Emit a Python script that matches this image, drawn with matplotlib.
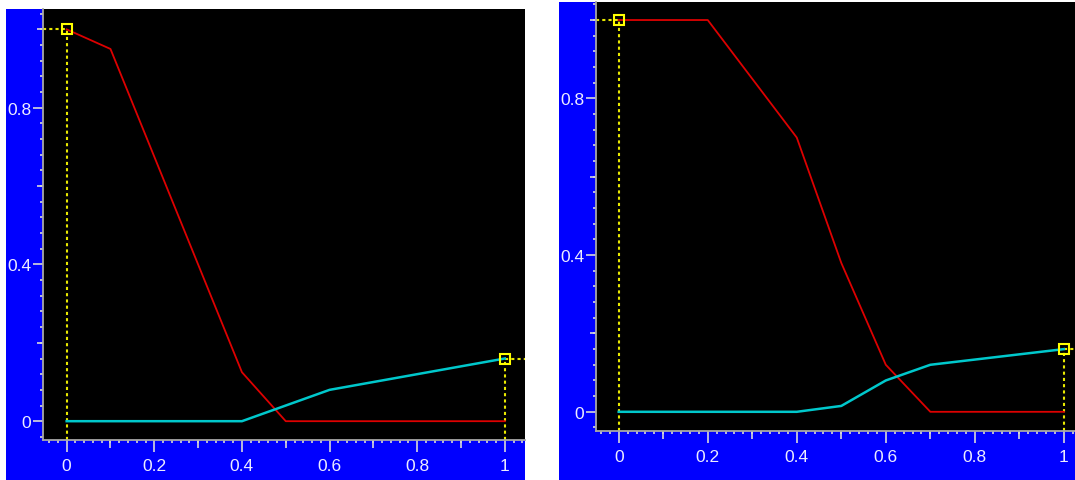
import matplotlib
matplotlib.use('Agg')
import matplotlib.pyplot as plt
from matplotlib.ticker import MultipleLocator, NullFormatter

# data (breakpoints of the piecewise curves)
left_red_x = [0.0, 0.1, 0.4, 0.5, 1.0]
left_red_y = [1.0, 0.95, 0.125, 0.0, 0.0]
left_cyan_x = [0.0, 0.4, 0.6, 1.0]
left_cyan_y = [0.0, 0.0, 0.08, 0.16]

right_red_x = [0.0, 0.2, 0.4, 0.5, 0.6, 0.7, 1.0]
right_red_y = [1.0, 1.0, 0.70, 0.38, 0.12, 0.0, 0.0]
right_cyan_x = [0.0, 0.4, 0.5, 0.6, 0.7, 1.0]
right_cyan_y = [0.0, 0.0, 0.015, 0.08, 0.12, 0.16]

x_ticks = [0, 0.2, 0.4, 0.6, 0.8, 1.0]
x_labels = ['0', '0.2', '0.4', '0.6', '0.8', '1']
y_ticks = [0, 0.4, 0.8]
y_labels = ['0', '0.4', '0.8']

W, H = 1075, 481
BLUE = '#0000ff'
TXT = '#ececff'
TICK = '#d8d8d8'
plt.rcParams['font.family'] = ['Liberation Sans', 'DejaVu Sans']

fig = plt.figure(figsize=(W / 100, H / 100), dpi=100)
fig.patch.set_facecolor('white')


def rect(x0, y0, x1, y1):
    # pixel box (top-left origin) -> figure fraction
    return [x0 / W, 1 - y1 / H, (x1 - x0) / W, (y1 - y0) / H]


def panel(bg_box, ax_box, xlim, ylim, rx, ry, cx, cy):
    bg = fig.add_axes(rect(*bg_box))
    bg.set_facecolor(BLUE)
    bg.set_xticks([]); bg.set_yticks([])
    for s in bg.spines.values():
        s.set_visible(False)

    ax = fig.add_axes(rect(*ax_box))
    ax.set_facecolor('black')
    ax.set_xlim(xlim)
    ax.set_ylim(ylim)
    for s in ['top', 'right']:
        ax.spines[s].set_visible(False)
    for s in ['left', 'bottom']:
        ax.spines[s].set_color('#a8a8a8')
        ax.spines[s].set_linewidth(1.3)

    ax.set_xticks(x_ticks)
    ax.set_xticklabels(x_labels)
    ax.set_yticks(y_ticks)
    ax.set_yticklabels(y_labels)
    ax.xaxis.set_minor_locator(MultipleLocator(0.02))
    ax.yaxis.set_minor_locator(MultipleLocator(0.04))
    ax.tick_params(axis='x', which='major', length=8.6, width=1.2, color=TICK,
                   labelcolor=TXT, labelsize=12.5, pad=4.5)
    ax.tick_params(axis='y', which='major', length=7, width=1.2, color=TICK,
                   labelcolor=TXT, labelsize=12.5, pad=1.5)
    ax.tick_params(which='minor', length=2.2, width=1.2, color=TICK)

    # medium ticks (0.1 on x, 0.2 on y)
    sx = ax.secondary_xaxis('bottom')
    sx.set_xticks([0.1, 0.3, 0.5, 0.7, 0.9])
    sx.xaxis.set_major_formatter(NullFormatter())
    sx.tick_params(length=5.8, width=1.2, color=TICK)
    sx.spines['bottom'].set_visible(False)
    sy = ax.secondary_yaxis('left')
    sy.set_yticks([0.2, 0.6, 1.0])
    sy.yaxis.set_major_formatter(NullFormatter())
    sy.tick_params(length=4, width=1.2, color=TICK)
    sy.spines['left'].set_visible(False)

    ax.plot(rx, ry, color='#dd0000', lw=1.3, zorder=3)
    ax.plot(cx, cy, color='#00c8cc', lw=1.8, zorder=3)

    # yellow cursors on first red point and last cyan point
    yl = dict(color='#e8e800', lw=1.5, ls=(0, (1.5, 1.5)), zorder=2)
    ax.plot([xlim[0], rx[0]], [ry[0], ry[0]], **yl)
    ax.plot([rx[0], rx[0]], [ylim[0], ry[0]], **yl)
    ax.plot([cx[-1], xlim[1]], [cy[-1], cy[-1]], **yl)
    ax.plot([cx[-1], cx[-1]], [ylim[0], cy[-1]], **yl)
    ax.plot([rx[0], cx[-1]], [ry[0], cy[-1]], ls='none', marker='s', ms=7,
            mfc='none', mec='#ffff00', mew=1.5, zorder=4)
    return ax


panel((6, 10, 525, 481), (43, 10, 525, 441), (-0.054, 1.046), (-0.048, 1.052),
      left_red_x, left_red_y, left_cyan_x, left_cyan_y)
panel((559, 3, 1075, 481), (596, 3, 1075, 432), (-0.051, 1.025), (-0.049, 1.046),
      right_red_x, right_red_y, right_cyan_x, right_cyan_y)

fig.savefig('out.png', dpi=100, facecolor='white')
